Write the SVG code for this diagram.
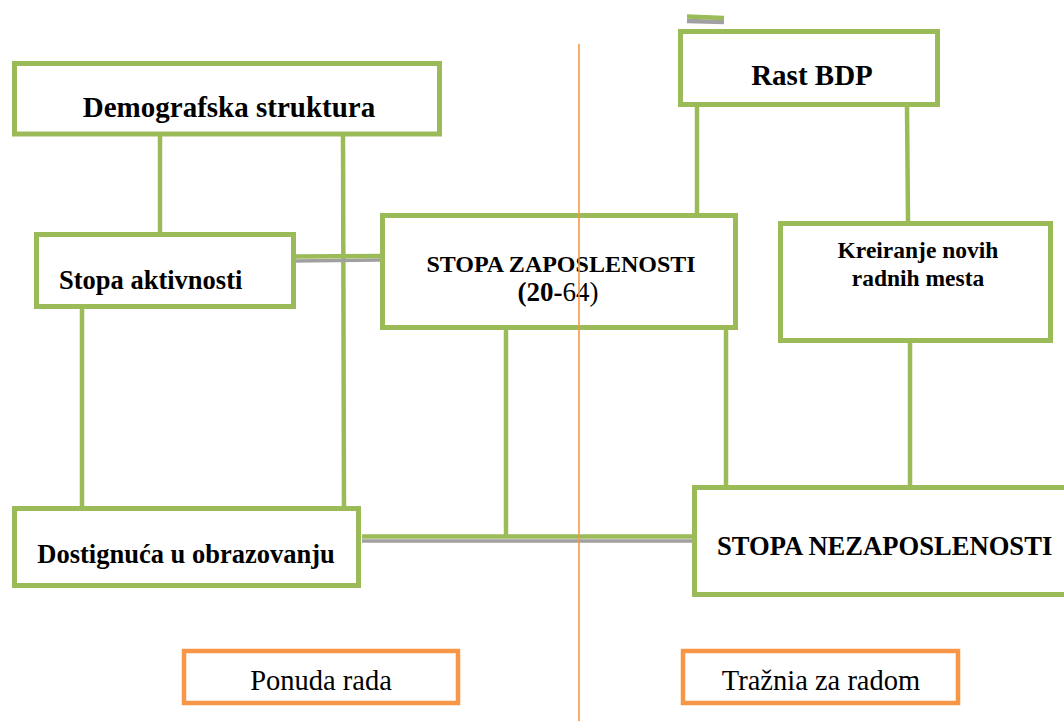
<svg xmlns="http://www.w3.org/2000/svg" width="1064" height="721" viewBox="0 0 1064 721">
<style>
.box{fill:#ffffff;stroke:#9BBB59;stroke-width:5}
.obox{fill:#ffffff;stroke:#F79646;stroke-width:4.5}
.con{stroke:#9BBB59;stroke-width:4.5;fill:none}
.sh{stroke:#A0A0A0;stroke-width:3.5;fill:none}
.t{font-family:"Liberation Serif","Times New Roman",serif;fill:#000000;font-weight:bold}
.r{font-family:"Liberation Serif","Times New Roman",serif;fill:#000000;font-weight:normal}
</style>
<rect width="1064" height="721" fill="#ffffff"/>
<g id="connectors">
  <line class="con" x1="160" y1="136" x2="160" y2="232"/>
  <line class="con" x1="343" y1="136" x2="344" y2="506"/>
  <line class="sh" x1="292" y1="261" x2="382" y2="260"/>
  <line class="con" x1="296" y1="256.5" x2="380" y2="256"/>
  <line class="con" x1="82" y1="309" x2="82" y2="506"/>
  <line class="con" x1="697" y1="107" x2="697" y2="214"/>
  <line class="con" x1="907" y1="107" x2="908" y2="221"/>
  <line class="con" x1="910" y1="343" x2="910" y2="486"/>
  <line class="con" x1="506" y1="330" x2="506" y2="536"/>
  <line class="con" x1="726" y1="330" x2="726" y2="486"/>
  <line class="sh" x1="362" y1="541" x2="692" y2="541"/>
  <line class="con" x1="362" y1="536.5" x2="692" y2="536.5"/>
  <line stroke="#A0A0A0" stroke-width="4.5" x1="687" y1="21" x2="724" y2="22"/>
  <line stroke="#9BBB59" stroke-width="4.5" x1="687" y1="16.5" x2="724" y2="18"/>
</g>
<g id="demografska">
  <rect class="box" x="14.5" y="63.5" width="425" height="70.5"/>
  <text class="t" x="229" y="117" font-size="29" text-anchor="middle">Demografska struktura</text>
</g>
<g id="stopa-aktivnosti">
  <rect class="box" x="36.5" y="234.5" width="257" height="72"/>
  <text class="t" x="59" y="289" font-size="26.5">Stopa aktivnosti</text>
</g>
<g id="stopa-zaposlenosti">
  <rect class="box" x="382.5" y="215.5" width="353" height="112"/>
  <text class="t" x="561" y="272" font-size="24" text-anchor="middle">STOPA ZAPOSLENOSTI</text>
  <text class="t" x="558" y="301" font-size="27" text-anchor="middle">(20-<tspan font-weight="normal">64)</tspan></text>
</g>
<g id="rast-bdp">
  <rect class="box" x="680.5" y="31.5" width="257" height="73"/>
  <text class="t" x="812" y="85" font-size="29" text-anchor="middle">Rast BDP</text>
</g>
<g id="kreiranje">
  <rect class="box" x="780.5" y="223.5" width="270" height="117"/>
  <text class="t" x="918" y="258" font-size="23.5" text-anchor="middle">Kreiranje novih</text>
  <text class="t" x="918" y="286" font-size="23.5" text-anchor="middle">radnih mesta</text>
</g>
<g id="dostignuca">
  <rect class="box" x="14.5" y="508.5" width="344" height="77"/>
  <text class="t" x="186" y="563" font-size="26.5" text-anchor="middle">Dostignuća u obrazovanju</text>
</g>
<g id="stopa-nezaposlenosti">
  <rect class="box" x="694.5" y="487.5" width="380" height="107"/>
  <text class="t" x="717" y="555" font-size="26.6">STOPA NEZAPOSLENOSTI</text>
</g>
<line id="divider" x1="579" y1="44" x2="579" y2="721" stroke="#F79646" stroke-width="1.6"/>
<g id="ponuda-rada">
  <rect class="obox" x="184" y="651" width="274" height="52"/>
  <text class="r" x="321" y="690" font-size="28.5" text-anchor="middle">Ponuda rada</text>
</g>
<g id="traznja">
  <rect class="obox" x="683" y="651" width="275" height="52"/>
  <text class="r" x="821" y="690" font-size="28.5" text-anchor="middle">Tražnia za radom</text>
</g>
</svg>
